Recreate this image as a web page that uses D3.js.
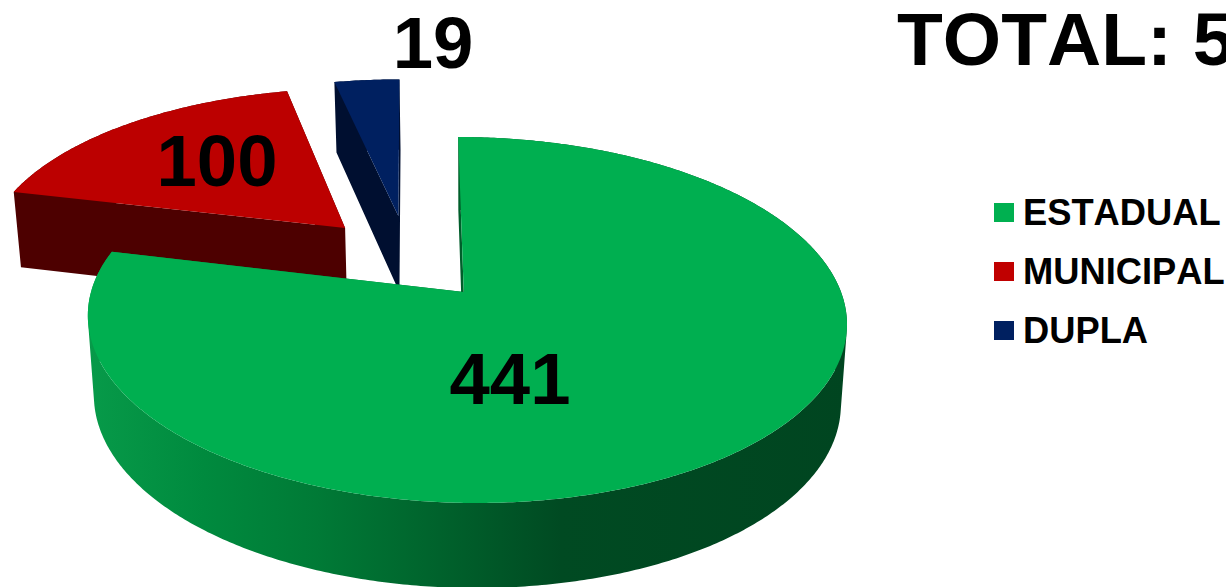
<!DOCTYPE html>
<meta charset="utf-8">
<title>Total 560</title>
<head>
  <script src="https://d3js.org/d3.v7.min.js"></script>
  <style>
    html, body { margin: 0; padding: 0; background: #fff; overflow: hidden; }
    text { font-family: "Liberation Sans", Arial, sans-serif; font-weight: bold; fill: #000; font-kerning: none; }
  </style>
</head>
<body>
<div id="chart"></div>
<script>
// data
var categories = ["ESTADUAL", "MUNICIPAL", "DUPLA"];
var values = [441, 100, 19];
var totalLabel = "TOTAL: 560";

// colours
var topColors = ["#00AF50", "#BC0000", "#002060"];
var legendColors = ["#00B050", "#C00000", "#002060"];
var wallColors = ["url(#greenWall)", "#4D0000", "#000F30"];

// how far each slice is pulled out, in pie radii
var explodeU = [0, -0.332, -0.182];
var explodeV = [0, -0.379, -0.4545];
var apexShiftU = [-0.006, 0, 0];

var width = 1226, height = 587;

var svg = d3.select("#chart").append("svg")
    .attr("width", width)
    .attr("height", height)
    .style("display", "block");

var grad = svg.append("defs").append("linearGradient")
    .attr("id", "greenWall")
    .attr("gradientUnits", "userSpaceOnUse")
    .attr("x1", 90).attr("x2", 850).attr("y1", 0).attr("y2", 0);
[[0, "#079A49"], [0.15, "#008A3E"], [0.3, "#007A36"], [0.46, "#00622C"], [0.62, "#004A22"], [1, "#004520"]]
  .forEach(function(s) {
    grad.append("stop").attr("offset", s[0]).attr("stop-color", s[1]);
  });

// the tilted pie is a circle seen in perspective
var tilt = 0.153, skew = 0.024, shrink = 0.984;
var x = d3.scaleLinear().domain([-1, 1]).range([91, 841]);
var y = d3.scaleLinear().domain([-1, 1]).range([113.3, 470.7]);

function topPoint(u, v) {
  var d = 1 - tilt * v;
  return [x((u + skew * v) / d), y(v / d)];
}
function bottomPoint(u, v) {
  var p = topPoint(u, v);
  return [x(0) + (p[0] - x(0)) * shrink, p[1] + 79 + 6 * v];
}

var line = d3.line();
var arcs = d3.pie().sort(null)(values);

function rim(d, i) {
  var angles = d3.range(d.startAngle, d.endAngle, 0.01).concat(d.endAngle);
  return angles.map(function(a) {
    return [explodeU[i] + Math.sin(a), explodeV[i] - Math.cos(a)];
  });
}

// one wall piece, always wound the same way so the pieces add up in a single path
function wallPiece(w) {
  var quad = [
    topPoint(w[0][0], w[0][1]),
    topPoint(w[1][0], w[1][1]),
    bottomPoint(w[1][0], w[1][1]),
    bottomPoint(w[0][0], w[0][1])
  ];
  if (d3.polygonArea(quad) < 0) quad.reverse();
  return line(quad) + "Z";
}

// back slices first, the big green one last
[1, 2, 0].forEach(function(i) {
  var d = arcs[i];
  var ring = rim(d, i);
  var apex = [explodeU[i] + apexShiftU[i], explodeV[i]];
  var first = ring[0], last = ring[ring.length - 1];

  var pieces = d3.pairs(ring).concat([[apex, first], [last, apex]]);
  svg.append("path")
      .attr("d", pieces.map(wallPiece).join(""))
      .style("fill", wallColors[i]);

  var surface = [apex].concat(ring).map(function(p) { return topPoint(p[0], p[1]); });
  svg.append("path")
      .attr("d", line(surface) + "Z")
      .style("fill", topColors[i]);
});

// value labels
var labelX = [510, 217, 433];
var labelY = [404, 186, 68];
values.forEach(function(v, i) {
  svg.append("text")
      .attr("x", labelX[i])
      .attr("y", labelY[i])
      .attr("text-anchor", "middle")
      .style("font-size", "72.5px")
      .text(v);
});

svg.append("text")
    .attr("x", 897)
    .attr("y", 65)
    .style("font-size", "75px")
    .text(totalLabel);

// legend
var legendY = d3.scalePoint().domain(categories).range([225, 343]);
var legend = svg.selectAll(".legend")
    .data(categories)
    .enter()
    .append("g")
      .attr("class", "legend")
      .attr("transform", function(d) { return "translate(0," + legendY(d) + ")"; });
legend.append("rect")
    .attr("x", 994)
    .attr("y", -22)
    .attr("width", 20)
    .attr("height", 19)
    .style("fill", function(d, i) { return legendColors[i]; });
legend.append("text")
    .attr("x", 1023)
    .style("font-size", "36.3px")
    .text(function(d) { return d; });
</script>
</body>
